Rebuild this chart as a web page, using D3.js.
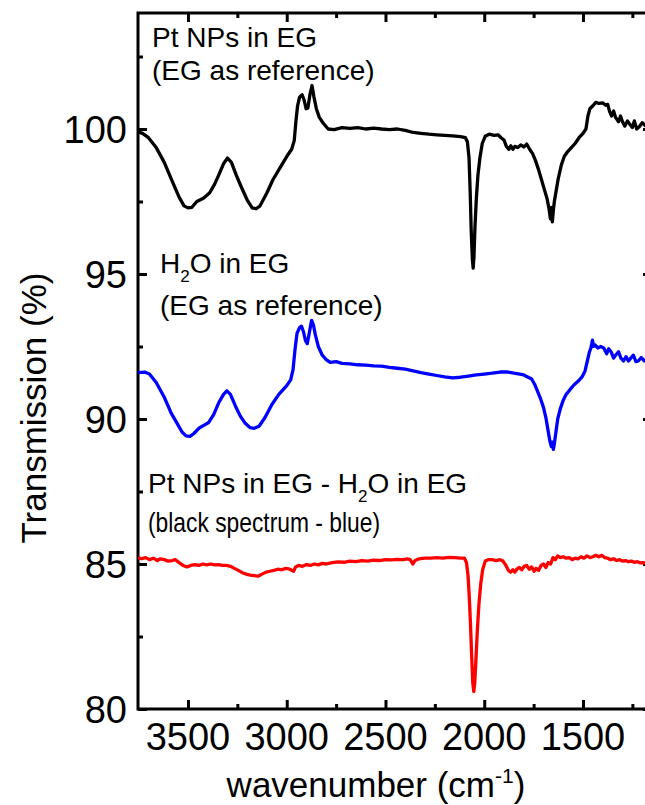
<!DOCTYPE html>
<html>
<head>
<meta charset="utf-8">
<script src="https://cdn.jsdelivr.net/npm/d3@7"></script>
<style>
  body { margin: 0; background: #fff; }
  svg { display: block; font-family: "Liberation Sans", Arial, sans-serif; }
</style>
</head>
<body>
<svg id="svgSpectra" width="645" height="805"></svg>
<script>
// FTIR spectra, wavenumber (cm-1) vs transmission (%)

var xTicks = [3500, 3000, 2500, 2000, 1500];
var xMinorTicks = [3250, 2750, 2250, 1750, 1250];
var yTicks = [80, 85, 90, 95, 100];
var yMinorTicks = [82.5, 87.5, 92.5, 97.5, 102.5];

// black: Pt NPs in EG
var blackWn = [3753,3730,3700,3660,3620,3580,3545,3520,3500,3480,3455,3420,3390,3365,3345,3320,3300,3280,3255,3230,3200,3175,3155,3135,3100,3070,3035,3000,2975,2962,2953,2945,2935,2922,2912,2902,2893,2882,2872,2862,2850,2835,2815,2790,2760,2720,2680,2640,2600,2560,2520,2480,2440,2400,2360,2320,2280,2240,2200,2160,2120,2095,2085,2077,2071,2066,2060,2056,2052,2047,2040,2032,2022,2010,1995,1975,1950,1930,1915,1900,1888,1875,1865,1855,1845,1830,1815,1800,1785,1770,1755,1740,1725,1710,1695,1682,1672,1665,1660,1655,1650,1645,1635,1625,1610,1595,1580,1560,1540,1520,1500,1485,1475,1465,1450,1435,1420,1400,1385,1375,1365,1355,1345,1335,1320,1310,1300,1288,1275,1265,1250,1240,1228,1215,1200,1185,1170,1150];
var blackT = [99.9,99.85,99.7,99.35,98.85,98.2,97.65,97.35,97.28,97.3,97.5,97.62,97.8,98.1,98.4,98.8,99.0,98.85,98.4,98.0,97.55,97.28,97.25,97.35,97.8,98.25,98.65,99.05,99.3,99.6,100.3,100.8,101.1,101.18,101.0,100.7,100.72,101.2,101.5,101.1,100.7,100.4,100.2,100.0,99.98,100.05,100.02,100.05,100.0,100.03,100.0,99.98,100.0,99.95,99.88,99.85,99.82,99.8,99.78,99.76,99.74,99.7,99.55,99.0,97.8,96.5,95.5,95.2,95.6,96.6,97.6,98.4,99.0,99.5,99.75,99.82,99.78,99.8,99.7,99.62,99.4,99.3,99.42,99.3,99.4,99.36,99.45,99.38,99.48,99.3,99.15,98.9,98.6,98.25,97.9,97.6,97.25,96.9,97.3,96.8,97.2,97.5,97.9,98.3,98.75,99.05,99.2,99.35,99.5,99.7,99.85,100.0,100.45,100.7,100.8,100.92,100.88,100.9,100.82,100.85,100.6,100.45,100.62,100.4,100.25,100.45,100.25,100.1,100.28,100.18,100.05,100.28,100.0,100.08,100.22,100.12,100.2,100.15];

// blue: H2O in EG
var blueWn = [3753,3720,3695,3660,3620,3585,3555,3530,3510,3490,3470,3445,3420,3395,3370,3345,3320,3303,3285,3260,3235,3210,3185,3165,3140,3110,3075,3040,3000,2980,2968,2958,2948,2935,2925,2915,2905,2896,2885,2874,2865,2855,2840,2820,2800,2780,2750,2720,2680,2640,2600,2560,2520,2480,2440,2400,2360,2320,2280,2240,2200,2160,2120,2080,2040,2000,1960,1920,1880,1850,1820,1800,1780,1760,1745,1730,1715,1700,1688,1678,1668,1660,1655,1650,1645,1638,1628,1615,1600,1585,1565,1545,1525,1505,1490,1478,1468,1460,1452,1446,1438,1425,1410,1395,1380,1370,1358,1345,1335,1320,1308,1295,1282,1270,1258,1245,1232,1220,1205,1190,1175,1150];
var blueT = [91.6,91.62,91.55,91.25,90.75,90.2,89.85,89.55,89.42,89.4,89.5,89.68,89.78,89.88,90.15,90.55,90.85,90.97,90.85,90.45,90.1,89.85,89.7,89.68,89.75,90.05,90.5,90.85,91.15,91.35,91.7,92.4,92.95,93.15,93.2,93.0,92.7,92.6,93.0,93.4,93.25,92.9,92.5,92.2,92.05,91.95,91.98,91.92,91.9,91.87,91.86,91.83,91.82,91.78,91.75,91.72,91.66,91.6,91.55,91.5,91.45,91.42,91.44,91.48,91.52,91.55,91.58,91.62,91.62,91.58,91.55,91.52,91.45,91.38,91.2,90.95,90.7,90.4,90.05,89.65,89.25,89.05,89.2,88.95,89.15,89.5,90.0,90.35,90.65,90.85,91.02,91.18,91.3,91.45,91.65,92.0,92.3,92.45,92.72,92.5,92.55,92.45,92.5,92.45,92.25,92.42,92.32,92.1,92.2,92.32,92.1,92.0,92.15,92.0,92.1,92.2,91.98,92.0,92.12,92.0,92.08,92.0];

// red: difference spectrum (black - blue)
var redWn = [3753,3735,3715,3695,3675,3655,3640,3620,3600,3580,3565,3545,3525,3505,3485,3465,3445,3425,3405,3385,3365,3345,3325,3305,3285,3265,3245,3225,3205,3185,3165,3145,3125,3105,3085,3065,3045,3025,3005,2985,2965,2955,2940,2920,2900,2880,2860,2840,2820,2800,2770,2740,2710,2680,2650,2620,2590,2560,2530,2500,2470,2440,2410,2390,2375,2362,2350,2330,2300,2270,2240,2210,2180,2150,2120,2100,2090,2082,2076,2070,2064,2058,2053,2048,2042,2035,2027,2018,2008,1995,1980,1960,1940,1920,1905,1890,1878,1866,1855,1845,1835,1822,1810,1798,1785,1772,1760,1748,1738,1725,1712,1700,1688,1676,1664,1652,1640,1628,1615,1600,1585,1570,1555,1540,1525,1510,1495,1480,1465,1450,1435,1420,1405,1390,1375,1360,1345,1330,1315,1300,1285,1270,1255,1240,1225,1210,1195,1180,1150];
var redT = [85.22,85.18,85.22,85.15,85.2,85.12,85.18,85.15,85.1,85.12,85.15,85.05,84.95,84.9,84.95,84.98,84.95,85.0,84.97,85.0,84.97,84.98,84.95,84.95,84.92,84.85,84.78,84.7,84.65,84.62,84.6,84.58,84.65,84.72,84.75,84.78,84.82,84.8,84.85,84.82,84.75,84.9,84.95,84.92,84.98,84.95,85.0,84.97,85.02,85.0,85.05,85.07,85.06,85.1,85.08,85.12,85.1,85.13,85.12,85.15,85.14,85.16,85.15,85.18,85.15,85.0,85.12,85.18,85.2,85.2,85.22,85.2,85.23,85.22,85.2,85.2,85.05,84.6,83.9,83.0,81.9,80.9,80.6,80.9,81.7,82.7,83.6,84.3,84.8,85.1,85.15,85.15,85.12,85.15,85.1,84.95,84.78,84.72,84.8,84.72,84.82,84.88,84.8,84.92,84.95,84.82,84.9,84.75,84.85,84.78,84.95,85.0,84.88,85.05,85.0,85.22,85.15,85.28,85.22,85.25,85.2,85.22,85.15,85.2,85.18,85.25,85.2,85.28,85.22,85.25,85.3,85.25,85.3,85.22,85.2,85.15,85.18,85.12,85.15,85.1,85.12,85.08,85.1,85.06,85.08,85.04,85.05,85.02,85.03];

var svg = d3.select("#svgSpectra");

var plotLeft = 138, plotRight = 652, plotTop = 13, plotBottom = 709;

var x = d3.scaleLinear().domain([3753, 1150.6]).range([plotLeft, plotRight]);
var y = d3.scaleLinear().domain([80, 104]).range([plotBottom, plotTop]);

// ticks (all pointing inward)
var drawTicks = function(axis, ticks, size, tx, ty) {
    svg.append("g")
        .attr("transform", "translate(" + tx + "," + ty + ")")
        .call(axis.tickValues(ticks).tickSize(size).tickSizeOuter(0).tickFormat(""))
        .call(function(g) { g.select(".domain").remove(); })
        .selectAll("line").attr("stroke", "#000").attr("stroke-width", 3);
};

drawTicks(d3.axisBottom(x), xTicks, -9, 0, plotBottom);
drawTicks(d3.axisBottom(x), xMinorTicks, -5, 0, plotBottom);
drawTicks(d3.axisTop(x), xTicks, -9, 0, plotTop);
drawTicks(d3.axisTop(x), xMinorTicks, -5, 0, plotTop);
drawTicks(d3.axisLeft(y), yTicks, -9, plotLeft, 0);
drawTicks(d3.axisLeft(y), yMinorTicks, -5, plotLeft, 0);
drawTicks(d3.axisRight(y), yTicks, -9, plotRight, 0);
drawTicks(d3.axisRight(y), yMinorTicks, -5, plotRight, 0);

// frame
svg.append("rect")
    .attr("x", plotLeft).attr("y", plotTop)
    .attr("width", plotRight - plotLeft).attr("height", plotBottom - plotTop)
    .attr("fill", "none").attr("stroke", "#000").attr("stroke-width", 3);

// tick labels
svg.append("g").selectAll("text").data(xTicks).join("text")
    .attr("x", function(d) { return x(d); })
    .attr("y", 750)
    .attr("text-anchor", "middle")
    .attr("font-size", 38)
    .text(function(d) { return d; });

svg.append("g").selectAll("text").data(yTicks).join("text")
    .attr("x", 127)
    .attr("y", function(d) { return y(d); })
    .attr("dy", "0.36em")
    .attr("text-anchor", "end")
    .attr("font-size", 38)
    .text(function(d) { return d; });

// axis titles
var xTitle = svg.append("text")
    .attr("x", 376).attr("y", 797)
    .attr("text-anchor", "middle")
    .attr("font-size", 35);
xTitle.append("tspan").text("wavenumber (cm");
xTitle.append("tspan").attr("font-size", 21).attr("dy", -14).text("-1");
xTitle.append("tspan").attr("dy", 14).text(")");

svg.append("text")
    .attr("transform", "translate(46,408) rotate(-90)")
    .attr("text-anchor", "middle")
    .attr("font-size", 35)
    .text("Transmission (%)");

// spectra
var line = d3.line()
    .x(function(d) { return x(d[0]); })
    .y(function(d) { return y(d[1]); });

var series = [
    { wn: blackWn, t: blackT, color: "#000000" },
    { wn: blueWn, t: blueT, color: "#0000ff" },
    { wn: redWn, t: redT, color: "#ff0000" }
];

var plot = svg.append("g");
plot.append("clipPath").attr("id", "clip")
    .append("rect").attr("x", plotLeft).attr("y", plotTop)
    .attr("width", plotRight - plotLeft).attr("height", plotBottom - plotTop);

series.forEach(function(s) {
    plot.append("path")
        .datum(d3.zip(s.wn, s.t))
        .attr("clip-path", "url(#clip)")
        .attr("fill", "none")
        .attr("stroke", s.color)
        .attr("stroke-width", 3.3)
        .attr("stroke-linejoin", "round")
        .attr("d", line);
});

// annotations
var note = function(xp, yp, parts, fitWidth) {
    var t = svg.append("text").attr("x", xp).attr("y", yp).attr("font-size", 28);
    if (fitWidth) t.attr("textLength", fitWidth).attr("lengthAdjust", "spacingAndGlyphs");
    var shift = 0;
    parts.forEach(function(p) {
        var ts = t.append("tspan").text(p.text);
        if (p.sub) {
            ts.attr("font-size", 17).attr("dy", 9);
            shift = -9;
        } else if (shift) {
            ts.attr("dy", shift);
            shift = 0;
        }
    });
};

note(152, 47, [{ text: "Pt NPs in EG" }]);
note(152, 80, [{ text: "(EG as reference)" }]);
note(160, 273, [{ text: "H" }, { text: "2", sub: true }, { text: "O in EG" }]);
note(160, 315, [{ text: "(EG as reference)" }]);
note(148, 493, [{ text: "Pt NPs in EG - H" }, { text: "2", sub: true }, { text: "O in EG" }]);
note(148, 532, [{ text: "(black spectrum - blue)" }], 232);
</script>
</body>
</html>
